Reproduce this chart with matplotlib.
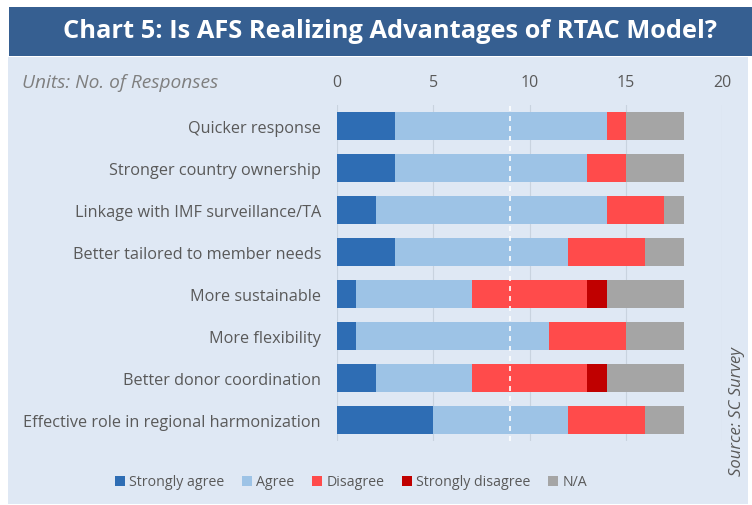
import matplotlib
matplotlib.use("Agg")
import matplotlib.pyplot as plt
from matplotlib.patches import Rectangle
import numpy as np

categories = ["Quicker response", "Stronger country ownership", "Linkage with IMF surveillance/TA",
              "Better tailored to member needs", "More sustainable", "More flexibility",
              "Better donor coordination", "Effective role in regional harmonization"]
series_names = ["Strongly agree", "Agree", "Disagree", "Strongly disagree", "N/A"]
strongly_agree = [3, 3, 2, 3, 1, 1, 2, 5]
agree = [11, 10, 12, 9, 6, 10, 5, 7]
disagree = [1, 2, 3, 4, 6, 4, 6, 4]
strongly_disagree = [0, 0, 0, 0, 1, 0, 1, 0]
not_applicable = [3, 3, 1, 2, 4, 3, 4, 2]
x_ticks = [0, 5, 10, 15, 20]
midline = 9

colors = ["#2E6DB4", "#9DC3E6", "#FF4B4B", "#C00000", "#A5A5A5"]
bg = "#DFE8F4"
txt = "#595959"
FONT = ["Open Sans", "DejaVu Sans"]
plt.rcParams['font.family'] = FONT

fig = plt.figure(figsize=(7.52, 5.06), dpi=100)
fig.patch.set_facecolor("white")
W, H = 752, 506
def fx(px): return px / W
def fy(py): return 1 - py / H

# panel background
fig.add_artist(Rectangle((fx(8), fy(505)), fx(740), 447 / H, transform=fig.transFigure,
                         facecolor=bg, edgecolor="none", zorder=-5))
# banner
fig.add_artist(Rectangle((fx(9), fy(57)), 1 - fx(9), 49 / H, transform=fig.transFigure,
                         facecolor="#365F91", edgecolor="none", zorder=-5))
fig.text(fx(390), fy(32), "Chart 5: Is AFS Realizing Advantages of RTAC Model?", color="white",
         fontsize=18.3, fontweight="bold", ha="center", va="center")

ax = fig.add_axes([fx(337), fy(442), fx(385), 336 / H])
ax.set_facecolor("none")
y = np.arange(len(categories))
left = np.zeros(len(categories))
for name, vals, c in zip(series_names,
                         [strongly_agree, agree, disagree, strongly_disagree, not_applicable], colors):
    ax.barh(y, vals, left=left, height=0.65, color=c, label=name, zorder=2)
    left += np.array(vals)

ax.set_xlim(0, 20)
ax.set_ylim(len(categories) - 0.5, -0.5)
ax.set_xticks(x_ticks)
ax.xaxis.tick_top()
ax.tick_params(axis="x", length=0, pad=11, labelsize=11.5, labelcolor=txt)
ax.set_yticks(y)
ax.set_yticklabels(categories)
ax.tick_params(axis="y", length=0, pad=11.5, labelsize=11.7, labelcolor=txt)
for s in ax.spines.values():
    s.set_visible(False)
ax.grid(axis="x", color="#C9D3DF", linewidth=0.8, zorder=1)
ax.axvline(midline, color="white", linestyle=(0, (3, 3)), linewidth=1.2, zorder=3)

fig.text(fx(22), fy(83), "Units: No. of Responses", color="#7F7F7F", fontsize=13.8,
         style="italic", ha="left", va="center")
fig.text(fx(737), fy(412), "Source: SC Survey", color=txt, fontsize=12,
         style="italic", rotation=90, ha="center", va="center")

handles, labels = ax.get_legend_handles_labels()
leg = fig.legend(handles, labels, loc="center", bbox_to_anchor=(fx(351), fy(483)), ncol=5,
                 frameon=False, fontsize=10.2, handlelength=0.7, handleheight=0.7,
                 handletextpad=0.3, columnspacing=1.25, labelcolor=txt)

fig.savefig("out.png", dpi=100)
